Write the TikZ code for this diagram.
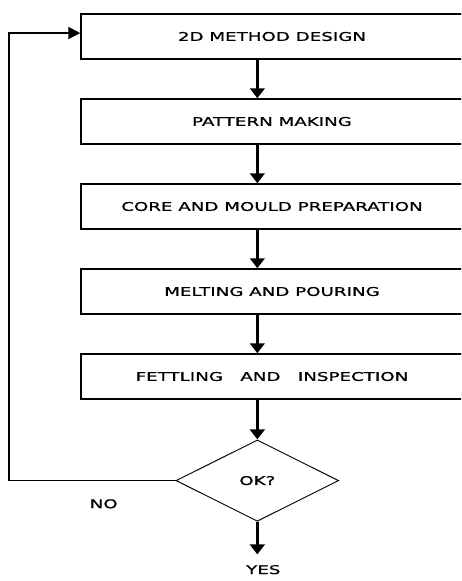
\documentclass[tikz,border=0pt]{standalone}
\usepackage{fontspec}
\newfontfamily\stepfont[FakeStretch=1.52, FakeBold=0.8]{DejaVu Sans}
\usetikzlibrary{arrows.meta, positioning, shapes.geometric}

\begin{document}
\begin{tikzpicture}[
  x=0.75pt, y=-0.75pt,
  node distance=28.9pt,
  stepbox/.style={rectangle, draw, line width=1.1pt, minimum width=286.5pt,
                  minimum height=33.75pt, inner sep=0pt,
                  font=\stepfont\fontsize{9pt}{11pt}\selectfont},
  decision/.style={diamond, draw, line width=0.7pt, aspect=2, inner sep=0pt,
                   minimum width=122pt, minimum height=61pt,
                   font=\stepfont\fontsize{9pt}{11pt}\selectfont},
  tag/.style={font=\stepfont\fontsize{9pt}{11pt}\selectfont},
  flow/.style={-{Triangle[length=7.5pt, width=11pt]}, line width=2.4pt},
  loop/.style={-{Triangle[length=9pt, width=9pt]}, line width=1.3pt}
]
  \useasboundingbox (0,0) rectangle (461,581);
  \clip (0,0) rectangle (461,581);

  % process steps
  \node[stepbox] (design) at (272,36.5) {2D METHOD DESIGN};
  \node[stepbox, below=of design] (pattern) {PATTERN MAKING};
  \node[stepbox, below=of pattern] (core) {CORE AND MOULD PREPARATION};
  \node[stepbox, below=of core] (melting) {MELTING AND POURING};
  \node[stepbox, below=of melting] (fettling) {FETTLING~~~AND~~~INSPECTION};
  \node[decision, below=29.8pt of fettling, xshift=-11pt] (ok) {OK?};
  \node[tag, below=29pt of ok, xshift=4.5pt] (yes) {YES};

  \foreach \a/\b in {design/pattern, pattern/core, core/melting,
                     melting/fettling, fettling/ok}
    \draw[flow] ([xshift=-11pt]\a.south) -- ([xshift=-11pt]\a.south |- \b.north);
  \draw[flow, shorten >=4.5pt] (ok.south) -- (ok.south |- yes.north);

  % back to design
  \coordinate (back) at ([xshift=-53.25pt, yshift=2.6pt]design.west);
  \draw[loop] (ok.west) -| node[tag, pos=0.216, below=10pt] (no) {NO} (back)
    -- ([yshift=2.6pt]design.west);
\end{tikzpicture}
\end{document}
